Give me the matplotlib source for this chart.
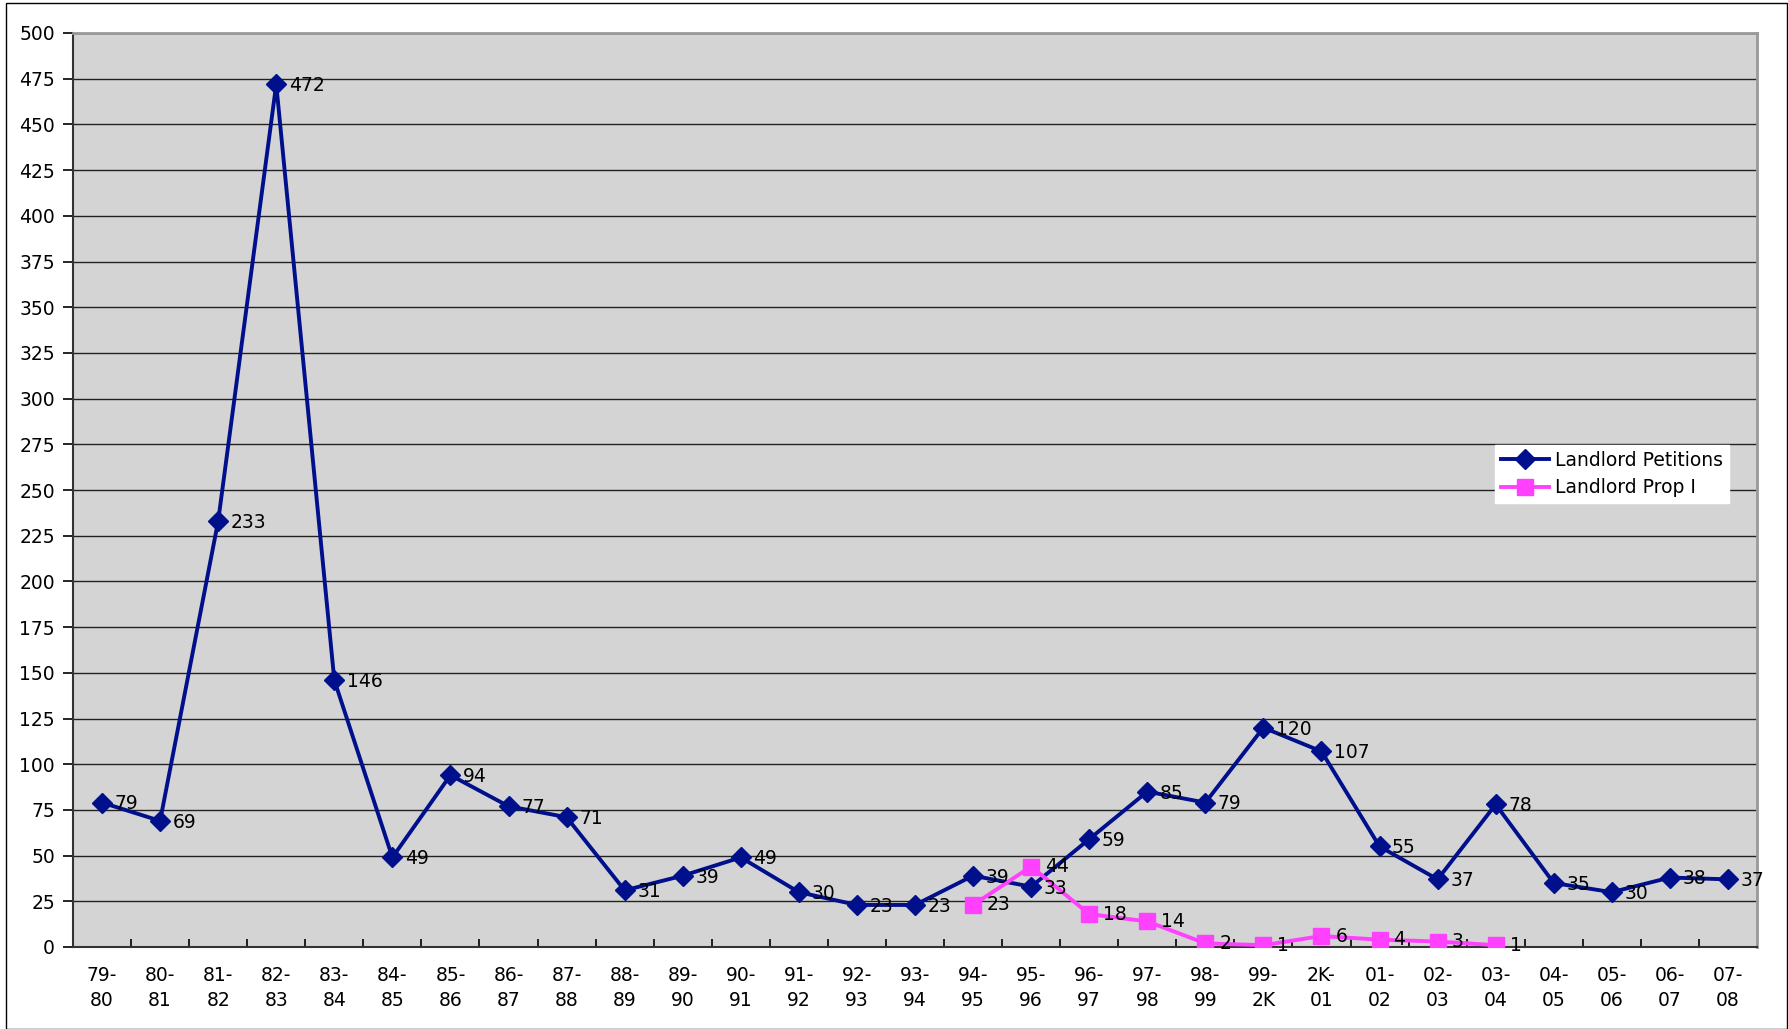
import matplotlib.pyplot as plt
from matplotlib.patches import Rectangle

# -----------------------------
# DATA
# -----------------------------
years = ["79-\n80", "80-\n81", "81-\n82", "82-\n83", "83-\n84", "84-\n85", "85-\n86",
         "86-\n87", "87-\n88", "88-\n89", "89-\n90", "90-\n91", "91-\n92", "92-\n93",
         "93-\n94", "94-\n95", "95-\n96", "96-\n97", "97-\n98", "98-\n99", "99-\n2K",
         "2K-\n01", "01-\n02", "02-\n03", "03-\n04", "04-\n05", "05-\n06", "06-\n07",
         "07-\n08"]
petitions = [79, 69, 233, 472, 146, 49, 94, 77, 71, 31, 39, 49, 30, 23, 23, 39, 33,
             59, 85, 79, 120, 107, 55, 37, 78, 35, 30, 38, 37]
prop_i_years = ["94-\n95", "95-\n96", "96-\n97", "97-\n98", "98-\n99", "99-\n2K",
                "2K-\n01", "01-\n02", "02-\n03", "03-\n04"]
prop_i = [23, 44, 18, 14, 2, 1, 6, 4, 3, 1]

# -----------------------------
# PLOT
# -----------------------------
plt.rcParams["font.family"] = ["DejaVu Sans"]
fs = 13.5
fig = plt.figure(figsize=(17.88, 10.29), dpi=100)
ax = fig.add_axes([73 / 1788, 1 - 947 / 1029, (1757 - 73) / 1788, (947 - 33) / 1029])
ax.set_facecolor("#D4D4D4")

x_all = list(range(len(years)))
x_prop = [years.index(y) for y in prop_i_years]

navy = "#000F8C"
pink = "#FF40FF"
ax.plot(x_all, petitions, color=navy, lw=2.8, marker="D", ms=10, label="Landlord Petitions",
        zorder=3)
ax.plot(x_prop, prop_i, color=pink, lw=2.8, marker="s", ms=12, label="Landlord Prop I",
        zorder=4)

# data labels to the right of each point
for x, v in zip(x_all, petitions):
    ax.annotate(str(v), (x, v), xytext=(9, -1), textcoords="offset points",
                fontsize=fs, va="center", ha="left", zorder=5)
for x, v in zip(x_prop, prop_i):
    ax.annotate(str(v), (x, v), xytext=(10, 0), textcoords="offset points",
                fontsize=fs, va="center", ha="left", zorder=5)

ax.set_xlim(-0.5, len(years) - 0.5)
ax.set_ylim(0, 500)
ax.set_yticks(range(0, 501, 25))
ax.yaxis.grid(True, color="#222222", lw=1)
ax.set_axisbelow(True)
ax.tick_params(axis="y", labelsize=fs, direction="out", length=7, width=1.2, pad=6)

# ticks between categories, labels at category centres
ax.set_xticks([i + 0.5 for i in range(len(years) - 1)])
ax.set_xticklabels([])
ax.tick_params(axis="x", which="major", direction="in", length=6, width=1.2)
ax.set_xticks(x_all, minor=True)
ax.set_xticklabels(years, minor=True, fontsize=fs, linespacing=1.35)
ax.tick_params(axis="x", which="minor", length=0, pad=14)

ax.spines["left"].set_color("#333333")
ax.spines["bottom"].set_color("#333333")
ax.spines["left"].set_linewidth(1.5)
ax.spines["bottom"].set_linewidth(1.5)
ax.spines["top"].set_color("#999999")
ax.spines["right"].set_color("#999999")
ax.spines["top"].set_linewidth(2)
ax.spines["right"].set_linewidth(2)

ax.legend(loc="upper left", bbox_to_anchor=((1495 - 73) / 1684, 1 - (445 - 33) / 914),
          fontsize=fs, frameon=True, fancybox=False, framealpha=1,
          edgecolor="white", borderpad=0.3, handlelength=2.6, handletextpad=0.3,
          labelspacing=0.45, borderaxespad=0)

fig.patches.append(Rectangle((6 / 1788, 0), 1781 / 1788, 1 - 3 / 1029,
                             transform=fig.transFigure, fill=False, edgecolor="black",
                             lw=1))

plt.savefig("out.png", dpi=100)
plt.close()
